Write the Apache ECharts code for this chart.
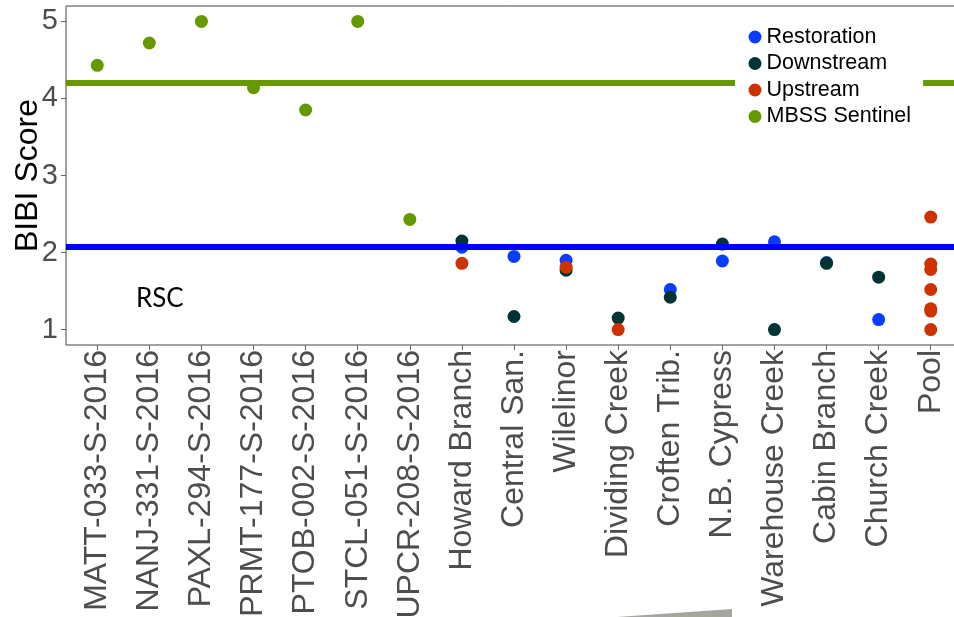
<!DOCTYPE html>
<html>
<head>
<meta charset="utf-8">
<script src="https://cdn.jsdelivr.net/npm/echarts@6/dist/echarts.min.js"></script>
<style>html,body{margin:0;padding:0;background:#fff;}#c{width:954px;height:617px;}</style>
</head>
<body>
<div id="c"></div>
<script>
const categories = ["MATT-033-S-2016","NANJ-331-S-2016","PAXL-294-S-2016","PRMT-177-S-2016","PTOB-002-S-2016","STCL-051-S-2016","UPCR-208-S-2016","Howard Branch","Central San.","Wilelinor","Dividing Creek","Croften Trib.","N.B. Cypress","Warehouse Creek","Cabin Branch","Church Creek","Pool"];
const yTicks = [1, 2, 3, 4, 5];
const restoration = [["Howard Branch",2.07],["Central San.",1.95],["Wilelinor",1.90],["Croften Trib.",1.52],["N.B. Cypress",1.89],["Warehouse Creek",2.14],["Cabin Branch",1.87],["Church Creek",1.13]];
const downstream = [["Howard Branch",2.15],["Central San.",1.17],["Wilelinor",1.77],["Dividing Creek",1.15],["Croften Trib.",1.42],["N.B. Cypress",2.11],["Warehouse Creek",1.0],["Cabin Branch",1.86],["Church Creek",1.68]];
const upstream = [["Howard Branch",1.86],["Wilelinor",1.81],["Dividing Creek",1.0],["Pool",2.46],["Pool",1.85],["Pool",1.78],["Pool",1.52],["Pool",1.27],["Pool",1.24],["Pool",1.0]];
const sentinel = [["MATT-033-S-2016",4.43],["NANJ-331-S-2016",4.72],["PAXL-294-S-2016",5.0],["PRMT-177-S-2016",4.14],["PTOB-002-S-2016",3.85],["STCL-051-S-2016",5.0],["UPCR-208-S-2016",2.43]];
const sentinelLine = 4.2;
const restorationLine = 2.08;
const rscLabel = "RSC";

const toXY = arr => arr.map(d => [categories.indexOf(d[0]), d[1]]);
const catIdx = categories.map((_, i) => i);

const chart = echarts.init(document.getElementById('c'), null, {renderer: 'canvas'});
const FONT = "'Liberation Sans', Arial, sans-serif";
function sc(name, data, color, extra) {
  return Object.assign({
    name: name, type: 'scatter', data: toXY(data), symbol: 'circle', symbolSize: 13,
    itemStyle: {color: color, opacity: 1}, z: 3, animation: false
  }, extra || {});
}
chart.setOption({
  animation: false,
  backgroundColor: '#ffffff',
  grid: {left: 66, top: 6, width: 896, height: 339, show: true, borderColor: '#444', borderWidth: 1, backgroundColor: 'transparent', containLabel: false, outerBoundsMode: 'none'},
  xAxis: {
    type: 'value', min: -0.6, max: 16.6,
    splitLine: {show: false},
    axisLine: {show: false, onZero: false},
    axisTick: {show: true, customValues: catIdx, length: 5, lineStyle: {color: '#666'}},
    axisLabel: {customValues: catIdx, rotate: 90, margin: 5, fontSize: 32, color: '#4d4d4d', fontFamily: FONT,
      formatter: v => categories[Math.round(v)] || ''}
  },
  yAxis: {
    type: 'value', min: 0.8, max: 5.2,
    name: 'BIBI Score', nameLocation: 'middle', nameGap: 22, nameMoveOverlap: false,
    nameTextStyle: {fontSize: 32, color: '#000', fontFamily: FONT},
    splitLine: {show: false},
    axisLine: {show: false, onZero: false},
    axisTick: {show: true, customValues: yTicks, length: 5, lineStyle: {color: '#666'}},
    axisLabel: {customValues: yTicks, margin: 8, fontSize: 29, color: '#4d4d4d', fontFamily: FONT}
  },
  legend: {
    orient: 'vertical', left: 735, top: 20, z: 10,
    backgroundColor: '#ffffff',
    padding: [6, 12, 6, 13.5],
    itemWidth: 13, itemHeight: 13, itemGap: 4.5, icon: 'circle',
    textStyle: {fontSize: 21.5, color: '#000', fontFamily: FONT, lineHeight: 20},
    data: ['Restoration', 'Downstream', 'Upstream', 'MBSS Sentinel']
  },
  series: [
    sc('Restoration', restoration, '#0a3cff'),
    sc('Downstream', downstream, '#003333'),
    sc('Upstream', upstream, '#cc3300'),
    sc('MBSS Sentinel', sentinel, '#669900', {
      markLine: {
        silent: true, symbol: 'none', z: 5, animation: false,
        label: {show: false},
        data: [
          {yAxis: sentinelLine, lineStyle: {color: '#669900', width: 6, type: 'solid'}},
          {yAxis: restorationLine, lineStyle: {color: '#0000ff', width: 6, type: 'solid'}}
        ]
      },
      markPoint: {
        symbol: 'circle', symbolSize: 1, itemStyle: {color: 'rgba(0,0,0,0)'},
        label: {show: true, formatter: rscLabel, color: '#000', fontSize: 26, fontFamily: "Lato, 'Open Sans', sans-serif", position: 'inside'},
        data: [{coord: [1.2, 1.4]}]
      }
    })
  ],
  graphic: [
    {type: 'polygon', z: 20, shape: {points: [[617, 617], [732, 609], [732, 617]]}, style: {fill: '#a6a6a0'}}
  ]
});
</script>
</body>
</html>
